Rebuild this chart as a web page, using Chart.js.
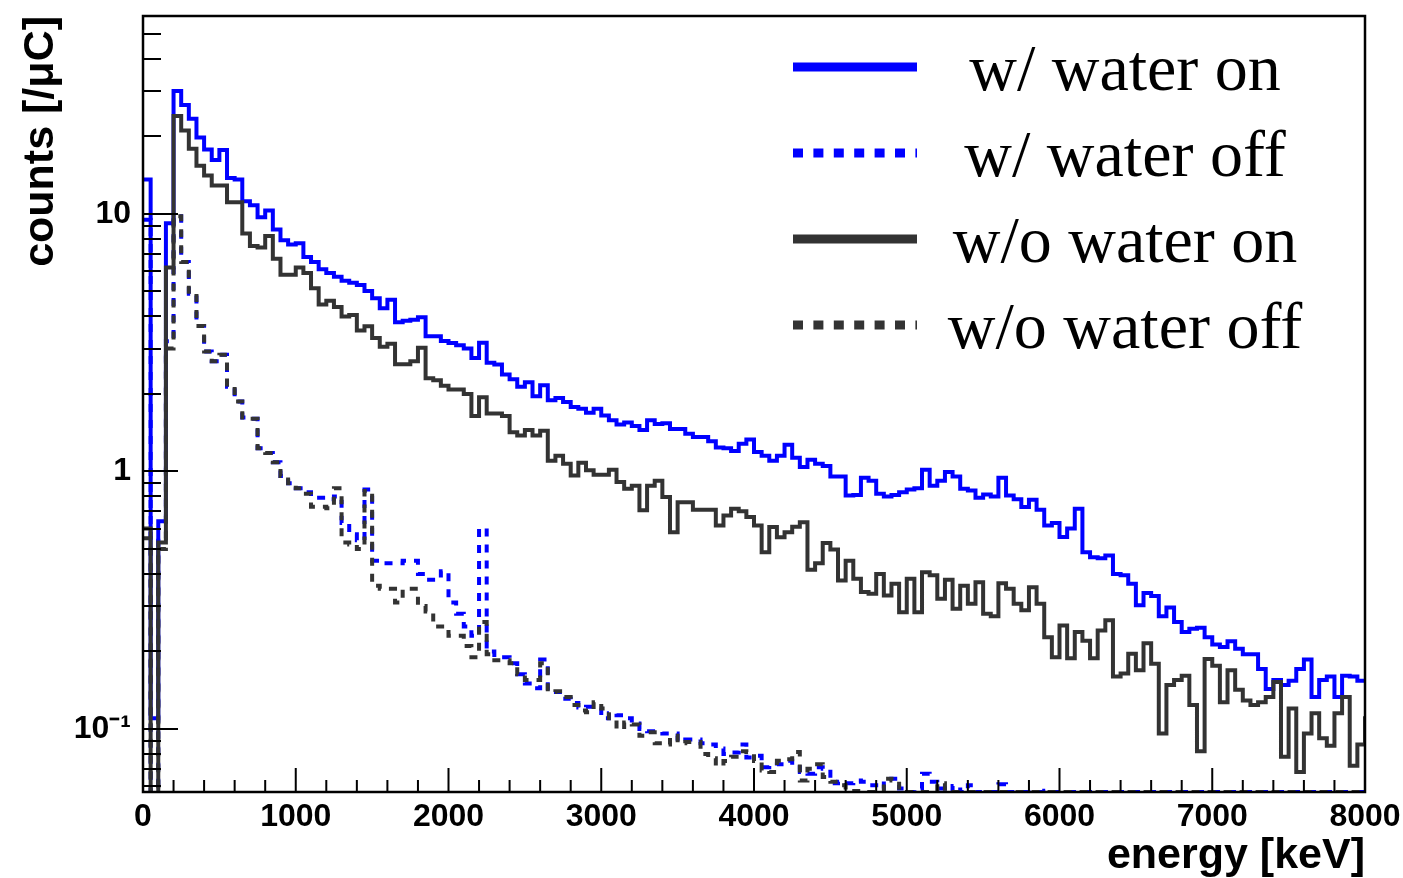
<!DOCTYPE html>
<html>
<head>
<meta charset="utf-8">
<title>counts vs energy</title>
<script src="https://cdn.jsdelivr.net/npm/chart.js@4.4.1/dist/chart.umd.min.js"></script>
<style>
  html, body { margin: 0; padding: 0; background: #ffffff; }
  #wrap { width: 1403px; height: 878px; }
</style>
</head>
<body>
<div id="wrap"><canvas id="spectrum" width="1403" height="878"></canvas></div>
<script>
// font default ala ROOT (Helvetica bold -> Liberation Sans)
Chart.defaults.font.family = "'Liberation Sans', Arial, sans-serif";
Chart.defaults.color = "#000000";

// ---- data: 50 keV bins mulai 0 keV (bin terakhir = overflow di atas 8000) ----
const binWidth = 50;
const energyMax = 8000;
const xTickLabels = [0, 1000, 2000, 3000, 4000, 5000, 6000, 7000, 8000];
const yTickLabels = [0.1, 1, 10];
const seriesNames = ["w/ water on", "w/ water off", "w/o water on", "w/o water off"];

const withWaterOn = [
  13.6, 0.11, 0.64, 9.2, 30, 26.5, 23.4, 19.8, 17.8, 16.2,
  17.7, 13.8, 13.6, 11.2, 10.8, 9.7, 10.3, 8.7, 7.9, 7.6,
  7.7, 6.8, 6.5, 6.1, 5.9, 5.7, 5.5, 5.41, 5.3, 5.02,
  4.7, 4.3, 4.64, 3.8, 3.85, 3.88, 3.97, 3.35, 3.35, 3.21,
  3.15, 3.09, 3.0, 2.76, 3.16, 2.64, 2.6, 2.38, 2.28, 2.13,
  2.22, 1.96, 2.16, 1.89, 1.93, 1.86, 1.78, 1.75, 1.69, 1.75,
  1.65, 1.58, 1.52, 1.55, 1.5, 1.45, 1.58, 1.53, 1.54, 1.46,
  1.46, 1.4, 1.36, 1.36, 1.31, 1.24, 1.23, 1.2, 1.28, 1.33,
  1.19, 1.15, 1.1, 1.15, 1.27, 1.13, 1.04, 1.11, 1.07, 1.05,
  0.956, 0.955, 0.807, 0.81, 0.945, 0.92, 0.82, 0.8, 0.81, 0.83,
  0.85, 0.86, 1.015, 0.88, 0.92, 0.995, 0.956, 0.857, 0.844, 0.79,
  0.814, 0.8, 0.945, 0.807, 0.78, 0.727, 0.776, 0.71, 0.617, 0.63,
  0.556, 0.6, 0.716, 0.486, 0.464, 0.46, 0.472, 0.4, 0.395, 0.366,
  0.302, 0.337, 0.328, 0.274, 0.296, 0.26, 0.238, 0.245, 0.247, 0.227,
  0.213, 0.208, 0.219, 0.205, 0.195, 0.195, 0.171, 0.143, 0.155, 0.148,
  0.154, 0.171, 0.186, 0.133, 0.155, 0.16, 0.133, 0.161, 0.16, 0.154,
  0.154
];

const withWaterOff = [
  9.5, 0.03, 0.55, 3.2, 9.8, 6.5, 4.9, 3.67, 2.92, 2.68,
  2.84, 2.13, 1.87, 1.62, 1.6, 1.23, 1.18, 1.085, 0.96, 0.9,
  0.86, 0.83, 0.79, 0.79, 0.78, 0.8, 0.63, 0.57, 0.54, 0.85,
  0.45, 0.44, 0.44, 0.44, 0.45, 0.45, 0.4, 0.38, 0.38, 0.41,
  0.31, 0.28, 0.25, 0.23, 0.6, 0.2, 0.19, 0.19, 0.18, 0.163,
  0.15, 0.144, 0.186, 0.139, 0.139, 0.131, 0.126, 0.121, 0.122, 0.12,
  0.11, 0.115, 0.113, 0.11, 0.105, 0.1, 0.098, 0.098, 0.096, 0.096,
  0.09, 0.091, 0.091, 0.088, 0.087, 0.084, 0.08, 0.081, 0.087, 0.0775,
  0.0786, 0.071, 0.072, 0.073, 0.0752, 0.071, 0.068, 0.067, 0.071, 0.07,
  0.0615, 0.0624, 0.0615, 0.063, 0.0624, 0.0605, 0.0587, 0.064, 0.064, 0.0587,
  0.0569, 0.0587, 0.067, 0.0624, 0.0587, 0.0569, 0.06, 0.0569, 0.0605, 0.0569,
  0.0569, 0.0569, 0.061, 0.0569, 0.0569, 0.0569, 0.0569, 0.0569, 0.0575, 0.0569,
  0.0569, 0.0569, 0.0569, 0.0569, 0.0569, 0.0569, 0.0569, 0.0569, 0.0569, 0.0569,
  0.0569, 0.0569, 0.0569, 0.0569, 0.0569, 0.0569, 0.0569, 0.0569, 0.0569, 0.0569,
  0.0569, 0.0569, 0.0569, 0.0569, 0.0569, 0.0569, 0.0569, 0.0569, 0.0569, 0.0569,
  0.0569, 0.0569, 0.0569, 0.0569, 0.0569, 0.0569, 0.0569, 0.0569, 0.0569, 0.0569,
  0.0569
];

const withoutWaterOn = [
  0.6, 0.03, 0.53, 6.2, 24, 21.1, 17.9, 15.4, 14.1, 12.9,
  12.9, 11.1, 11.1, 8.4, 7.5, 7.4, 8.2, 6.7, 5.8, 5.8,
  6.2, 5.9, 5.15, 4.45, 4.6, 4.35, 4.0, 4.05, 3.53, 3.66,
  3.3, 3.05, 3.13, 2.61, 2.61, 2.68, 3.02, 2.3, 2.26, 2.15,
  2.08, 2.08, 2.0, 1.64, 1.94, 1.68, 1.68, 1.64, 1.42, 1.38,
  1.45, 1.38, 1.44, 1.1, 1.15, 1.07, 0.965, 1.08, 1.01, 0.97,
  0.97, 1.015, 0.91, 0.857, 0.88, 0.706, 0.88, 0.92, 0.795, 0.58,
  0.76, 0.76, 0.71, 0.71, 0.71, 0.617, 0.675, 0.716, 0.7, 0.665,
  0.617, 0.486, 0.608, 0.555, 0.58, 0.61, 0.635, 0.415, 0.44, 0.527,
  0.497, 0.377, 0.45, 0.383, 0.34, 0.335, 0.4, 0.33, 0.366, 0.284,
  0.383, 0.284, 0.406, 0.395, 0.32, 0.38, 0.293, 0.36, 0.306, 0.371,
  0.28, 0.274, 0.368, 0.35, 0.306, 0.289, 0.355, 0.306, 0.227, 0.19,
  0.252, 0.188, 0.238, 0.22, 0.188, 0.241, 0.264, 0.16, 0.164, 0.196,
  0.169, 0.215, 0.179, 0.096, 0.148, 0.155, 0.161, 0.124, 0.082, 0.187,
  0.176, 0.127, 0.169, 0.142, 0.129, 0.124, 0.127, 0.133, 0.152, 0.078,
  0.12, 0.068, 0.096, 0.115, 0.092, 0.086, 0.115, 0.133, 0.072, 0.087,
  0.112
];

const withoutWaterOff = [
  0.55, 0.03, 0.5, 3.0, 9.8, 6.5, 4.9, 3.67, 2.92, 2.68,
  2.84, 2.13, 1.87, 1.62, 1.6, 1.23, 1.18, 1.085, 0.96, 0.9,
  0.86, 0.82, 0.73, 0.73, 0.72, 0.86, 0.53, 0.52, 0.5, 0.84,
  0.36, 0.35, 0.35, 0.31, 0.35, 0.35, 0.3, 0.286, 0.25, 0.25,
  0.23, 0.23, 0.21, 0.19, 0.26, 0.195, 0.185, 0.185, 0.18, 0.163,
  0.155, 0.155, 0.18, 0.139, 0.14, 0.133, 0.124, 0.118, 0.116, 0.127,
  0.12, 0.108, 0.1, 0.106, 0.104, 0.094, 0.097, 0.088, 0.087, 0.094,
  0.088, 0.089, 0.089, 0.08, 0.077, 0.072, 0.075, 0.078, 0.082, 0.0813,
  0.075, 0.069, 0.068, 0.0752, 0.0763, 0.0813, 0.063, 0.07, 0.073, 0.065,
  0.0624, 0.0605, 0.0574, 0.0574, 0.0569, 0.0569, 0.0569, 0.064, 0.063, 0.0569,
  0.0569, 0.0569, 0.0569, 0.0569, 0.0615, 0.0569, 0.0569, 0.0569, 0.0569, 0.0569,
  0.0569, 0.0569, 0.0569, 0.0569, 0.0569, 0.0569, 0.0569, 0.0569, 0.0569, 0.0569,
  0.0569, 0.0569, 0.0569, 0.0569, 0.0569, 0.0569, 0.0569, 0.0569, 0.0569, 0.0569,
  0.0569, 0.0569, 0.0569, 0.0569, 0.0569, 0.0569, 0.0569, 0.0569, 0.0569, 0.0569,
  0.0569, 0.0569, 0.0569, 0.0569, 0.0569, 0.0569, 0.0569, 0.0569, 0.0569, 0.0569,
  0.0569, 0.0569, 0.0569, 0.0569, 0.0569, 0.0569, 0.0569, 0.0569, 0.0569, 0.0569,
  0.0569
];

// histogram -> titik tepi bawah bin; Chart.js 'before' = garis datar di nilai bin itu sendiri
function toSteps(values) {
  const pts = values.map((v, i) => ({ x: i * binWidth, y: v }));
  pts.push({ x: values.length * binWidth, y: values[values.length - 1] });
  return pts;
}

const BLUE = "#0000ff";
const GRAY = "#333333";

function histSet(label, values, color, dashed, order) {
  return {
    label: label,
    data: toSteps(values),
    borderColor: color,
    borderWidth: 4,
    borderDash: dashed ? [8, 8] : [],
    stepped: "before",
    pointRadius: 0,
    fill: false,
    order: order,
  };
}

// frame + tick ke dalam (gaya ROOT)
const rootFrame = {
  id: "rootFrame",
  afterDatasetsDraw(chart) {
    const { ctx, chartArea: a } = chart;
    const xs = chart.scales.x, ys = chart.scales.y;
    ctx.save();
    ctx.strokeStyle = "#000";
    ctx.lineWidth = 2;
    ctx.beginPath();
    for (let e = 0; e <= energyMax; e += 200) {
      const px = xs.getPixelForValue(e);
      const len = xTickLabels.includes(e) ? 24 : 12;
      ctx.moveTo(px, a.bottom);
      ctx.lineTo(px, a.bottom - len);
    }
    for (let d = -2; d <= 1; d++) {
      for (let m = 1; m <= 9; m++) {
        const v = m * Math.pow(10, d);
        if (v < ys.min || v > ys.max) continue;
        const py = Math.round(ys.getPixelForValue(v));
        ctx.moveTo(a.left, py);
        ctx.lineTo(a.left + (m === 1 ? 35 : 18), py);
      }
    }
    ctx.stroke();
    ctx.lineWidth = 2.5;
    ctx.strokeRect(a.left, a.top, a.right - a.left, a.bottom - a.top);
    ctx.restore();
  },
};

// legenda di dalam area plot
const rootLegend = {
  id: "rootLegend",
  afterDraw(chart) {
    const { ctx } = chart;
    ctx.save();
    ctx.font = "66px 'Liberation Serif', 'Times New Roman', serif";
    ctx.fillStyle = "#000";
    ctx.textAlign = "center";
    ctx.textBaseline = "alphabetic";
    chart.data.datasets.forEach((ds, i) => {
      const ly = 67 + i * 86;
      ctx.strokeStyle = ds.borderColor;
      ctx.lineWidth = 9;
      ctx.lineCap = "butt";
      ctx.setLineDash(ds.borderDash.length ? [10, 10.4] : []);
      ctx.beginPath();
      ctx.moveTo(793, ly);
      ctx.lineTo(917, ly);
      ctx.stroke();
      ctx.setLineDash([]);
      ctx.fillText(ds.label, 1125, ly + 23);
    });
    ctx.restore();
  },
};

const ctx = document.getElementById("spectrum").getContext("2d");
const spectrumChart = new Chart(ctx, {
  type: "line",
  data: {
    datasets: [
      histSet(seriesNames[0], withWaterOn, BLUE, false, 3),
      histSet(seriesNames[1], withWaterOff, BLUE, true, 2),
      histSet(seriesNames[2], withoutWaterOn, GRAY, false, 1),
      histSet(seriesNames[3], withoutWaterOff, GRAY, true, 0),
    ],
  },
  options: {
    responsive: false,
    animation: false,
    devicePixelRatio: 1,
    layout: { padding: { top: 16, right: 38, left: 0, bottom: 0 } },
    plugins: {
      legend: { display: false },
      tooltip: { enabled: false },
    },
    scales: {
      x: {
        type: "linear",
        min: 0,
        max: energyMax,
        afterBuildTicks: (s) => { s.ticks = xTickLabels.map((v) => ({ value: v })); },
        afterFit: (s) => {
          s.height = 86;
          s.paddingLeft = 0;
          s.paddingRight = 0;
        },
        ticks: {
          autoSkip: false,
          maxRotation: 0,
          padding: 6,
          font: { size: 32, weight: "bold" },
          callback: (v) => String(v),
        },
        grid: { display: false, drawTicks: false },
        border: { display: false },
        title: {
          display: true,
          text: "energy [keV]",
          align: "end",
          font: { size: 43, weight: "bold", lineHeight: 1 },
          padding: { top: 0, bottom: 0 },
        },
      },
      y: {
        type: "logarithmic",
        min: 0.0569,
        max: 58.7,
        afterBuildTicks: (s) => { s.ticks = yTickLabels.map((v) => ({ value: v })); },
        afterFit: (s) => {
          s.width = 143;
          s.paddingTop = 0;
          s.paddingBottom = 0;
        },
        ticks: {
          autoSkip: false,
          padding: 12,
          font: { size: 32, weight: "bold" },
          callback: (v) => (Math.abs(v - 0.1) < 1e-9 ? "10\u207B\u00B9" : String(v)),
        },
        grid: { display: false, drawTicks: false },
        border: { display: false },
        title: {
          display: true,
          text: "counts [/\u03BCC]",
          align: "end",
          font: { size: 43, weight: "bold", lineHeight: 1 },
          padding: { top: 20, bottom: 0 },
        },
      },
    },
  },
  plugins: [rootFrame, rootLegend],
});
</script>
</body>
</html>
